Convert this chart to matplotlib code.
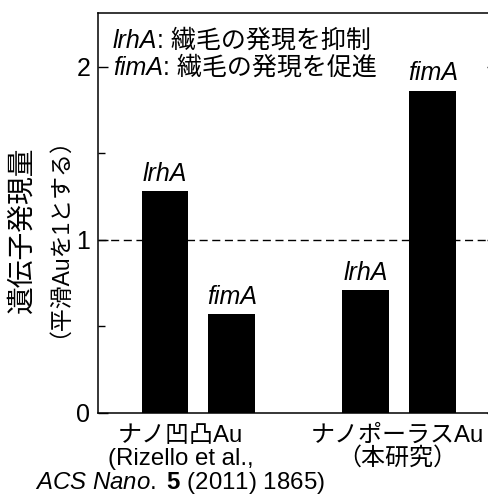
import matplotlib
matplotlib.use('Agg')
import matplotlib.pyplot as plt

plt.rcParams['font.family'] = ['Liberation Sans', 'Noto Sans CJK JP']
plt.rcParams['mathtext.fontset'] = 'custom'
plt.rcParams['mathtext.rm'] = 'Liberation Sans'
plt.rcParams['mathtext.it'] = 'Liberation Sans:italic'
plt.rcParams['mathtext.bf'] = 'Liberation Sans:bold'
plt.rcParams['font.size'] = 18

# data
positions = [0, 1, 3, 4]
values = [1.28, 0.57, 0.71, 1.86]
genes = ['lrhA', 'fimA', 'lrhA', 'fimA']
group_pos = [0.23, 3.47]
group_lines = [['ナノ凹凸Au', '(Rizello et al.,',
                '$\\mathit{ACS\\ Nano.}$ $\\mathbf{5}$ (2011) 1865)'],
               ['ナノポーラスAu', '（本研究）']]
legend_genes = ['lrhA', 'fimA']
legend_desc = [': 繊毛の発現を抑制', ': 繊毛の発現を促進']

fig = plt.figure(figsize=(4.88, 4.97), dpi=100)
ax = fig.add_axes([98 / 488, 1 - 413 / 497, 399 / 488, 400 / 497])

ax.axhline(1, color='black', lw=1, dashes=(5.8, 3.3), zorder=1)
ax.bar(positions, values, width=0.7, color='black', zorder=3)

for x, v, g in zip(positions, values, genes):
    ax.annotate(g, (x, v), xytext=(0, 4), textcoords='offset points',
                ha='center', va='bottom', fontstyle='italic')

ax.set_xlim(-1, 4.96)
ax.set_ylim(0, 2.31)
ax.set_yticks([0, 1, 2])
ax.set_yticks([0.5, 1.5], minor=True)
ax.tick_params(axis='y', which='both', direction='in', right=True, pad=5.5)
ax.tick_params(axis='y', which='major', length=7.5, width=1)
ax.tick_params(axis='y', which='minor', length=5, width=1)
ax.set_xticks([])
for s in ax.spines.values():
    s.set_linewidth(1.1)

# group labels under the axis, one text per line
line_offsets = [21, 37.5, 55]
for x, lines in zip(group_pos, group_lines):
    for line, off in zip(lines, line_offsets):
        ax.annotate(line, xy=(x, 0), xycoords=('data', 'axes fraction'),
                    xytext=(0, -off), textcoords='offset points', fontsize=17.3,
                    ha='center', va='baseline', annotation_clip=False)

# in-plot legend text
ys = [0.9125, 0.845]
for g, d, y in zip(legend_genes, legend_desc, ys):
    t = ax.text(0.0376, y, g, transform=ax.transAxes, fontstyle='italic', va='baseline')
    ax.annotate(d, xy=(1, 0), xycoords=t, va='bottom')

fig.text(23 / 488, 1 - 230 / 497, '遺伝子発現量', rotation=90, fontsize=20,
         ha='center', va='center')
fig.text(47 / 488, 1 - 226 / 497, '（平滑Auを1とする）', rotation=90, fontsize=16.5,
         ha='center', va='center')

fig.savefig('out.png', dpi=100)
